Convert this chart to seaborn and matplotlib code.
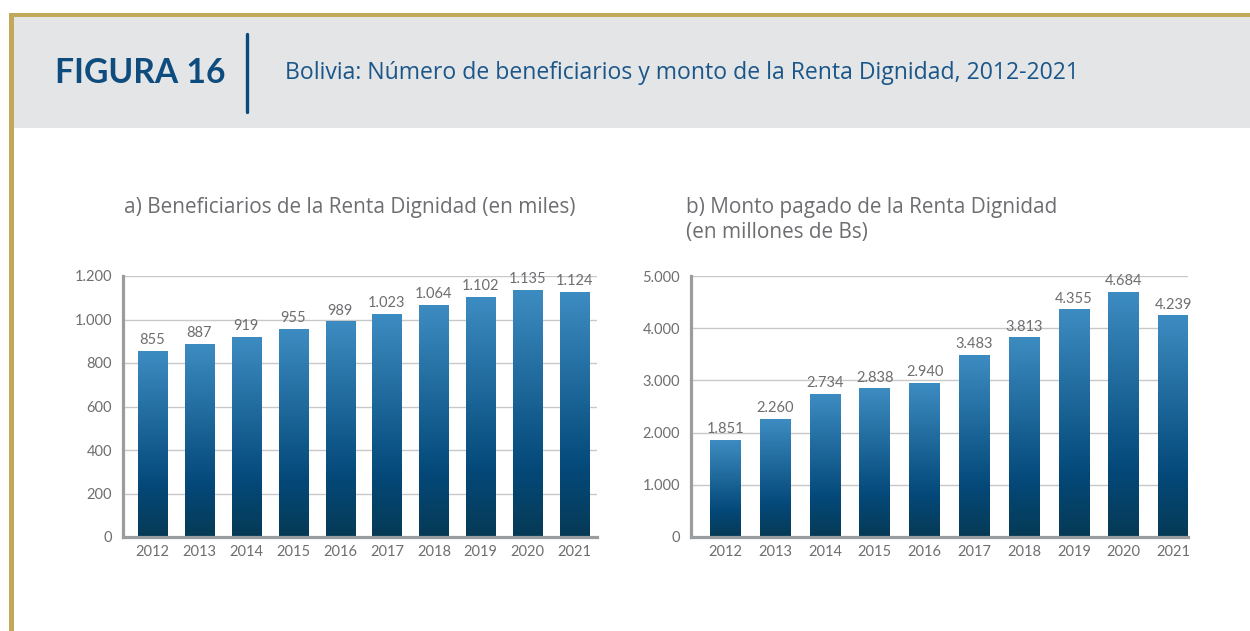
import numpy as np
import pandas as pd
import matplotlib
matplotlib.use("Agg")
import matplotlib.pyplot as plt
import seaborn as sns
from matplotlib.colors import LinearSegmentedColormap
from matplotlib.patches import Rectangle
from matplotlib.lines import Line2D

years = ["2012", "2013", "2014", "2015", "2016", "2017", "2018", "2019", "2020", "2021"]
beneficiarios = [855, 887, 919, 955, 989, 1023, 1064, 1102, 1135, 1124]
monto = [1851, 2260, 2734, 2838, 2940, 3483, 3813, 4355, 4684, 4239]
ticks_a = [0, 200, 400, 600, 800, 1000, 1200]
ticks_b = [0, 1000, 2000, 3000, 4000, 5000]

header_label = "FIGURA 16"
header_title = "Bolivia: Número de beneficiarios y monto de la Renta Dignidad, 2012-2021"
title_a = "a) Beneficiarios de la Renta Dignidad (en miles)"
title_b1 = "b) Monto pagado de la Renta Dignidad"
title_b2 = "(en millones de Bs)"

sns.set_theme(style="white")
plt.rcParams["font.family"] = ["Lato", "DejaVu Sans"]

W, H = 1250, 631
fig = plt.figure(figsize=(W / 100, H / 100), dpi=100)
fig.patch.set_facecolor("white")
renderer = fig.canvas.get_renderer()

def fx(px):
    return px / W

def fy(py):
    return 1 - py / H

def fit_text(x, y, s, target_w, size, **kw):
    t = fig.text(fx(x), fy(y), s, fontsize=size, ha="left", va="center", **kw)
    w = t.get_window_extent(renderer=renderer).width
    t.set_fontsize(size * target_w / w)
    return t

gold = "#c2a95a"
fig.add_artist(Rectangle((fx(14), fy(128)), 1 - fx(14), fy(17) - fy(128),
                         transform=fig.transFigure, color="#e4e5e7", lw=0, zorder=0))
fig.add_artist(Rectangle((fx(9), fy(17)), 1 - fx(9), fy(13) - fy(17),
                         transform=fig.transFigure, color=gold, lw=0, zorder=1))
fig.add_artist(Rectangle((fx(9), 0), fx(14) - fx(9), fy(13),
                         transform=fig.transFigure, color=gold, lw=0, zorder=1))
fig.add_artist(Line2D([fx(247), fx(247)], [fy(112), fy(34)], transform=fig.transFigure,
                      color="#0c4a7c", lw=2.4, zorder=2))
fit_text(55, 73, header_label, 171, 23, fontweight="bold", color="#0f4c7e")
fit_text(285, 73, header_title, 797, 15.5, color="#1b5689", family=["Open Sans", "DejaVu Sans"])

fit_text(124, 207, title_a, 451, 13.5, color="#6d6e71", family=["Open Sans", "DejaVu Sans"])
tb = fit_text(686, 207, title_b1, 370, 13.5, color="#6d6e71", family=["Open Sans", "DejaVu Sans"])
fig.text(fx(686), fy(233), title_b2, fontsize=tb.get_fontsize(), color="#6d6e71",
         ha="left", va="center", family=["Open Sans", "DejaVu Sans"])

cmap = LinearSegmentedColormap.from_list(
    "bar", [(0.0, "#063a55"), (0.28, "#04497a"), (1.0, "#3d8cc1")])
grad = np.linspace(0, 1, 256).reshape(-1, 1)

def fmt(v):
    return f"{v:,}".replace(",", ".")

def draw(ax, vals, ticks, xlim):
    df = pd.DataFrame({"year": years, "value": vals})
    sns.barplot(data=df, x="year", y="value", ax=ax, width=0.62, color="#04497a",
                saturation=1, errorbar=None)
    top = ticks[-1]
    for p in ax.patches:
        x0, w, h = p.get_x(), p.get_width(), p.get_height()
        p.set_alpha(0)
        ax.imshow(grad, extent=[x0, x0 + w, 0, h], origin="lower", cmap=cmap,
                  aspect="auto", zorder=3, interpolation="bicubic")
    for i, v in enumerate(vals):
        ax.annotate(fmt(v), (i, v), xytext=(0, 3), textcoords="offset points",
                    ha="center", va="bottom", fontsize=10.5, color="#6d6e71", zorder=4)
    ax.set_xlim(*xlim)
    ax.set_ylim(0, top)
    ax.set_yticks(ticks)
    ax.set_yticklabels([fmt(t) for t in ticks])
    ax.set_xticks(range(len(years)))
    ax.set_xticklabels(years)
    ax.set_xlabel("")
    ax.set_ylabel("")
    ax.grid(axis="y", color="#c8c8c8", lw=1)
    ax.set_axisbelow(True)
    for s in ["top", "right"]:
        ax.spines[s].set_visible(False)
    for s in ["left", "bottom"]:
        ax.spines[s].set_color("#999da0")
        ax.spines[s].set_linewidth(2.3)
        ax.spines[s].set_zorder(5)
    ax.tick_params(axis="both", length=0, labelsize=10.5, labelcolor="#6d6e71")
    ax.tick_params(axis="y", pad=8)
    ax.tick_params(axis="x", pad=6)

ax1 = fig.add_axes([fx(123), fy(537), fx(597) - fx(123), fy(276) - fy(537)])
draw(ax1, beneficiarios, ticks_a, (-0.63, 9.48))
ax2 = fig.add_axes([fx(691), fy(537), fx(1188) - fx(691), fy(276) - fy(537)])
draw(ax2, monto, ticks_b, (-0.69, 9.29))

fig.savefig("out.png", dpi=100)
